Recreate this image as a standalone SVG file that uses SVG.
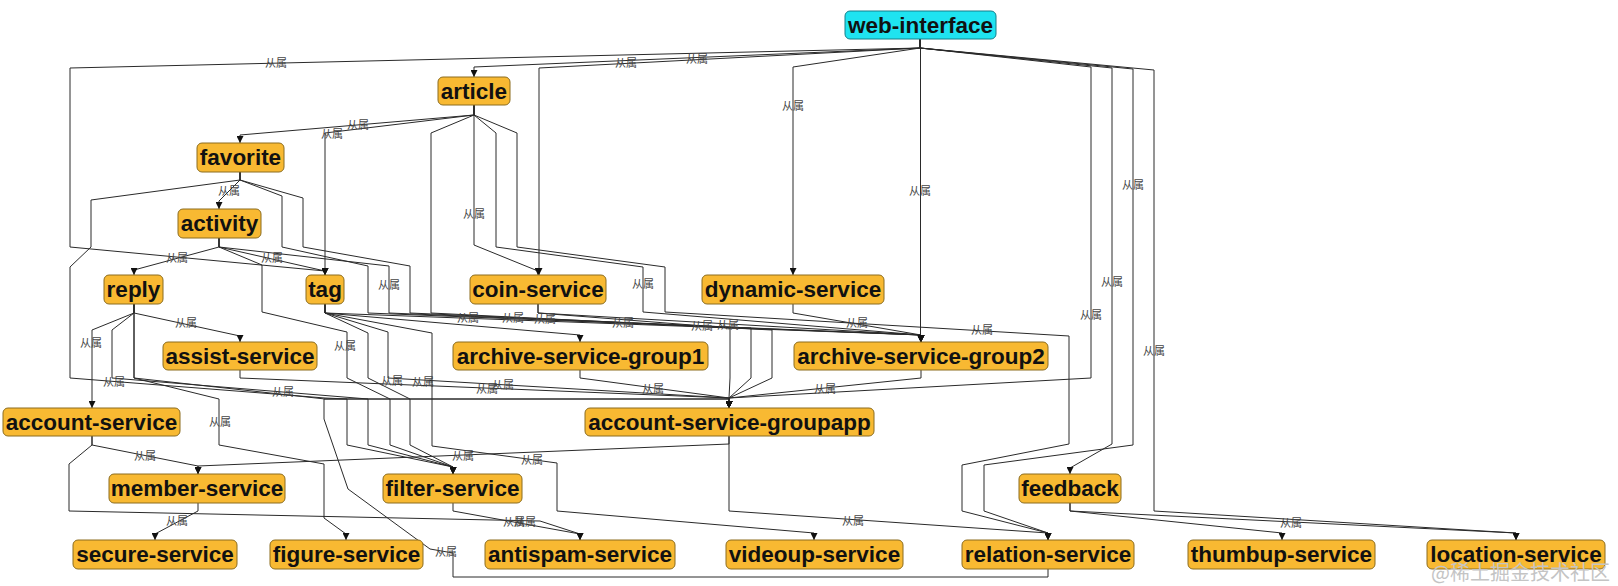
<svg xmlns="http://www.w3.org/2000/svg" width="1618" height="586" viewBox="0 0 1618 586">
<defs>
<style>
.e{fill:none;stroke:#2a2a2a;stroke-width:1;marker-end:url(#arr)}
.l{font-family:"Noto Sans CJK SC","Noto Sans",sans-serif;font-size:11px;fill:#444;text-anchor:middle;dominant-baseline:central}
.n rect{fill:#f8b932;stroke:#8c6d1f;stroke-width:1}
.c rect{fill:#1fe3f0;stroke:#157f8a;stroke-width:1}
.n text,.c text{font-family:"Liberation Sans",Arial,sans-serif;font-weight:bold;font-size:22.5px;fill:#111;text-anchor:middle}
.wm{font-family:"Noto Sans CJK SC",sans-serif;font-size:20px;fill:#c4c4c4;text-anchor:end}
</style>
<marker id="arr" viewBox="0 0 8 8" refX="8" refY="4" markerWidth="7" markerHeight="7" markerUnits="userSpaceOnUse" orient="auto"><path d="M0,0 L8,4 L0,8 z" fill="#111"/></marker>
</defs>
<rect width="1618" height="586" fill="#fff"/>
<g id="connectors">
<path class="e" d="M920,39 V48 L474,67 V77"/>
<path class="e" d="M920,39 V48 L70,68 V247 L325,271 V275"/>
<path class="e" d="M920,39 V48 L539,68 V275"/>
<path class="e" d="M920,39 V48 L793,67 V275"/>
<path class="e" d="M920.5,39 V342"/>
<path class="e" d="M920,39 V48 L1091,67 V378 L729,398 V408"/>
<path class="e" d="M920,39 V48 L1112,68 V444 L1070,468 V474"/>
<path class="e" d="M920,39 V48 L1133,69 V445 L984,465 V511 L1048,533 V540"/>
<path class="e" d="M920,39 V48 L1154,70 V511 L1516,533 V540"/>
<path class="e" d="M474,105 V115 L240,135 V143"/>
<path class="e" d="M474,105 V115 L325,133 V275"/>
<path class="e" d="M474,105 V245 L538,271 V275"/>
<path class="e" d="M474,105 V115 L496,133 V247 L643,267 V312 L921,335 V342"/>
<path class="e" d="M474,105 V115 L517,133 V247 L665,267 V312 L1069,336 V444 L962,465 V511 L1048,533 V540"/>
<path class="e" d="M474,105 V115 L431,133 V313 L772,330 V378 L729,398 V408"/>
<path class="e" d="M240,172 V180 L219,201 V209"/>
<path class="e" d="M240,172 V180 L91,200 V247 L70,267 V378 L325,398 L347,399 V445 L453,467 V474"/>
<path class="e" d="M240,172 V180 L282,196 V247 L368,266 V313 L921,335 V342"/>
<path class="e" d="M240,172 V180 L303,198 V247 L410,266 V313 L751,328 V378 L729,398 V408"/>
<path class="e" d="M219,238 V247 L134,270 V275"/>
<path class="e" d="M219,238 V247 L325,271 V275"/>
<path class="e" d="M219,238 V247 L262,265 V312 L347,332 V378 L390,399 V445 L453,467 V474"/>
<path class="e" d="M219,238 V247 L389,266 V313 L921,335 V342"/>
<path class="e" d="M134,304 V313 L240,336 V342"/>
<path class="e" d="M134,304 V313 L92,330 V408"/>
<path class="e" d="M134,304 V313 L112,330 V378 L368,399 V445 L453,467 V474"/>
<path class="e" d="M134,304 V378 L219,399 V445 L324,464 V518 L346,534 V540"/>
<path class="e" d="M134,304 V378 L325,399 L729,399 V408"/>
<path class="e" d="M240,370 V378 L729,398 V408"/>
<path class="e" d="M325,304 V313 L921,335 V342"/>
<path class="e" d="M325,304 V313 L580,335 V342"/>
<path class="e" d="M325,304 V313 L368,333 V378 L410,399 V445 L453,467 V474"/>
<path class="e" d="M325,304 V313 L388,332 V378 L729,398 V408"/>
<path class="e" d="M325,304 V313 L432,333 V446 L557,463 V511 L814,533 V540"/>
<path class="e" d="M538,304 V313 L921,335 V342"/>
<path class="e" d="M538,304 V313 L730,328 V378 L729,398 V408"/>
<path class="e" d="M793,304 V313 L921,335 V342"/>
<path class="e" d="M580,370 V378 L729,398 V408"/>
<path class="e" d="M921,370 V378 L729,398 V408"/>
<path class="e" d="M92,436 V445 L198,466 V474"/>
<path class="e" d="M92,436 V445 L69,464 V511 L540,521 L580,534 V540"/>
<path class="e" d="M198,503 V511 L155,534 V540"/>
<path class="e" d="M453,503 V511 L580,534 V540"/>
<path class="e" d="M729,436 V444 L198,466 V474"/>
<path class="e" d="M729,436 V511 L1048,533 V540"/>
<path class="e" d="M1070,503 V511 L1282,533 V540"/>
<path class="e" d="M1070,503 V511 L1516,533 V540"/>
<path class="e" d="M1048,569 V577 L453,577 V553 L430,549 L348,489 L324,419 V399 L729,399 V408"/>
<text class="l" x="626" y="62">从属</text>
<text class="l" x="276" y="62">从属</text>
<text class="l" x="697" y="58">从属</text>
<text class="l" x="793" y="105">从属</text>
<text class="l" x="920" y="190">从属</text>
<text class="l" x="1091" y="314">从属</text>
<text class="l" x="1112" y="281">从属</text>
<text class="l" x="1133" y="184">从属</text>
<text class="l" x="1154" y="350">从属</text>
<text class="l" x="358" y="124">从属</text>
<text class="l" x="332" y="133">从属</text>
<text class="l" x="474" y="213">从属</text>
<text class="l" x="643" y="283">从属</text>
<text class="l" x="982" y="329">从属</text>
<text class="l" x="728" y="324">从属</text>
<text class="l" x="229" y="190">从属</text>
<text class="l" x="114" y="381">从属</text>
<text class="l" x="513" y="317">从属</text>
<text class="l" x="702" y="325">从属</text>
<text class="l" x="177" y="257">从属</text>
<text class="l" x="272" y="257">从属</text>
<text class="l" x="345" y="345">从属</text>
<text class="l" x="389" y="284">从属</text>
<text class="l" x="186" y="322">从属</text>
<text class="l" x="91" y="342">从属</text>
<text class="l" x="423" y="381">从属</text>
<text class="l" x="220" y="421">从属</text>
<text class="l" x="283" y="391">从属</text>
<text class="l" x="487" y="388">从属</text>
<text class="l" x="503" y="384">从属</text>
<text class="l" x="468" y="317">从属</text>
<text class="l" x="392" y="380">从属</text>
<text class="l" x="532" y="459">从属</text>
<text class="l" x="623" y="322">从属</text>
<text class="l" x="545" y="318">从属</text>
<text class="l" x="857" y="322">从属</text>
<text class="l" x="653" y="388">从属</text>
<text class="l" x="825" y="388">从属</text>
<text class="l" x="145" y="455">从属</text>
<text class="l" x="514" y="521">从属</text>
<text class="l" x="177" y="520">从属</text>
<text class="l" x="525" y="521">从属</text>
<text class="l" x="463" y="455">从属</text>
<text class="l" x="853" y="520">从属</text>
<text class="l" x="1291" y="522">从属</text>
<text class="l" x="446" y="551">从属</text>
</g>
<g id="web-interface" class="c"><rect x="845" y="11" width="151" height="28" rx="5"/><text x="920.5" y="33">web-interface</text></g>
<g id="article" class="n"><rect x="438" y="77" width="72" height="28" rx="5"/><text x="474" y="99">article</text></g>
<g id="favorite" class="n"><rect x="197" y="143" width="87" height="29" rx="5"/><text x="240.5" y="165">favorite</text></g>
<g id="activity" class="n"><rect x="178" y="209" width="83" height="29" rx="5"/><text x="219.5" y="231">activity</text></g>
<g id="reply" class="n"><rect x="104" y="275" width="59" height="29" rx="5"/><text x="133.5" y="297">reply</text></g>
<g id="tag" class="n"><rect x="306" y="275" width="38" height="29" rx="5"/><text x="325" y="297">tag</text></g>
<g id="coin-service" class="n"><rect x="470" y="275" width="136" height="29" rx="5"/><text x="538" y="297">coin-service</text></g>
<g id="dynamic-service" class="n"><rect x="702" y="275" width="182" height="29" rx="5"/><text x="793" y="297">dynamic-service</text></g>
<g id="assist-service" class="n"><rect x="163" y="342" width="154" height="28" rx="5"/><text x="240" y="364">assist-service</text></g>
<g id="archive-service-group1" class="n"><rect x="453" y="342" width="255" height="28" rx="5"/><text x="580.5" y="364">archive-service-group1</text></g>
<g id="archive-service-group2" class="n"><rect x="794" y="342" width="254" height="28" rx="5"/><text x="921" y="364">archive-service-group2</text></g>
<g id="account-service" class="n"><rect x="3" y="408" width="177" height="28" rx="5"/><text x="91.5" y="430">account-service</text></g>
<g id="account-service-groupapp" class="n"><rect x="585" y="408" width="289" height="28" rx="5"/><text x="729.5" y="430">account-service-groupapp</text></g>
<g id="member-service" class="n"><rect x="109" y="474" width="176" height="29" rx="5"/><text x="197" y="496">member-service</text></g>
<g id="filter-service" class="n"><rect x="383" y="474" width="139" height="29" rx="5"/><text x="452.5" y="496">filter-service</text></g>
<g id="feedback" class="n"><rect x="1019" y="474" width="102" height="29" rx="5"/><text x="1070" y="496">feedback</text></g>
<g id="secure-service" class="n"><rect x="73" y="540" width="164" height="29" rx="5"/><text x="155" y="562">secure-service</text></g>
<g id="figure-service" class="n"><rect x="270" y="540" width="153" height="29" rx="5"/><text x="346.5" y="562">figure-service</text></g>
<g id="antispam-service" class="n"><rect x="485" y="540" width="190" height="29" rx="5"/><text x="580" y="562">antispam-service</text></g>
<g id="videoup-service" class="n"><rect x="726" y="540" width="177" height="29" rx="5"/><text x="814.5" y="562">videoup-service</text></g>
<g id="relation-service" class="n"><rect x="962" y="540" width="172" height="29" rx="5"/><text x="1048" y="562">relation-service</text></g>
<g id="thumbup-service" class="n"><rect x="1188" y="540" width="187" height="29" rx="5"/><text x="1281.5" y="562">thumbup-service</text></g>
<g id="location-service" class="n"><rect x="1427" y="540" width="178" height="29" rx="5"/><text x="1516" y="562">location-service</text></g>
<text class="wm" x="1610" y="580">@稀土掘金技术社区</text>
</svg>
